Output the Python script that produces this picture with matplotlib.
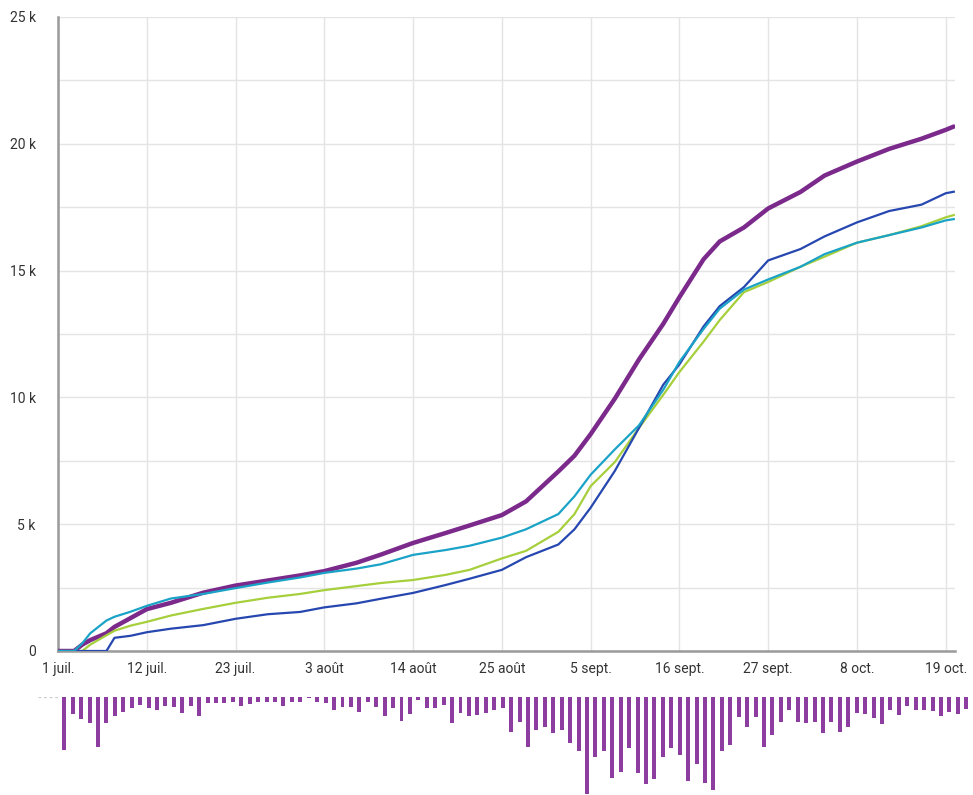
import matplotlib
matplotlib.use('Agg')
import matplotlib.pyplot as plt

plt.rcParams['font.family'] = ['Roboto', 'DejaVu Sans']

# day offsets from 1 July
days = [0, 2, 3, 4, 6, 7, 9, 11, 14, 18, 22, 26, 30, 33, 37, 40, 44, 48, 51, 55, 58,
        62, 64, 66, 69, 72, 75, 77, 80, 82, 85, 88, 92, 95, 99, 103, 107, 110, 111]

purple = [0, 0, 250, 430, 700, 950, 1300, 1650, 1900, 2300, 2580, 2780, 2980, 3150, 3480,
          3800, 4260, 4650, 4950, 5360, 5900, 7080, 7700, 8550, 9950, 11500, 12900, 13950,
          15450, 16150, 16700, 17450, 18100, 18750, 19300, 19800, 20200, 20550, 20680]
cyan = [0, 0, 300, 700, 1200, 1350, 1550, 1780, 2070, 2250, 2480, 2700, 2900, 3080, 3250,
        3420, 3790, 3980, 4150, 4470, 4800, 5400, 6100, 6950, 7950, 8900, 10300, 11400,
        12700, 13500, 14250, 14650, 15150, 15650, 16100, 16400, 16700, 16980, 17030]
green = [0, 0, 0, 250, 620, 800, 1000, 1150, 1400, 1660, 1900, 2100, 2250, 2400, 2560,
         2680, 2800, 3000, 3200, 3650, 3950, 4700, 5400, 6500, 7450, 8800, 10100, 11000,
         12200, 13050, 14150, 14550, 15150, 15550, 16100, 16400, 16750, 17100, 17190]
blue = [0, 0, 0, 0, 0, 520, 600, 740, 880, 1020, 1270, 1450, 1540, 1720, 1880,
        2060, 2290, 2600, 2850, 3200, 3700, 4200, 4800, 5650, 7100, 8800, 10500, 11300,
        12800, 13600, 14350, 15400, 15850, 16350, 16900, 17350, 17600, 18050, 18110]

tick_days = [0, 11, 22, 33, 44, 55, 66, 77, 88, 99, 110]
tick_labels = ['1 juil.', '12 juil.', '23 juil.', '3 août', '14 août', '25 août',
               '5 sept.', '16 sept.', '27 sept.', '8 oct.', '19 oct.']
y_ticks = [0, 5000, 10000, 15000, 20000, 25000]
y_labels = ['0', '5 k', '10 k', '15 k', '20 k', '25 k']

# daily bars (hanging below the chart)
daily_bars = [53, 17, 22, 26, 50, 26, 19, 15, 11, 8, 11, 13, 9, 10, 16, 9, 19, 6, 6, 6,
              5, 9, 7, 5, 5, 5, 9, 5, 5, 1, 5, 6, 13, 10, 10, 15, 5, 10, 19, 11,
              24, 17, 3, 11, 11, 8, 26, 16, 19, 18, 16, 13, 11, 35, 25, 50, 33, 30, 36, 33,
              46, 54, 97, 60, 54, 81, 75, 51, 76, 87, 82, 60, 51, 58, 84, 67, 86, 93, 54, 48,
              20, 30, 20, 50, 38, 25, 13, 25, 26, 25, 36, 25, 35, 30, 16, 17, 21, 27, 13, 18,
              9, 13, 13, 14, 19, 15, 17, 12, 11]

fig = plt.figure(figsize=(9.73, 7.95), dpi=100)
ax = fig.add_axes([58 / 973, 1 - 651 / 795, (955 - 58) / 973, (651 - 17) / 795])

ax.plot(days, purple, color='#7b2a8c', lw=3.2, zorder=3, solid_capstyle='round')
ax.plot(days, green, color='#a6cf3c', lw=1.6, zorder=4)
ax.plot(days, blue, color='#2647b0', lw=1.6, zorder=5)
ax.plot(days, cyan, color='#1aa3c7', lw=1.6, zorder=6)

ax.set_xlim(0, (955 - 58) / 8.07)
ax.set_ylim(0, 25000)
ax.set_xticks(tick_days)
ax.set_xticklabels(tick_labels)
ax.set_yticks(y_ticks)
ax.set_yticklabels(y_labels)
ax.set_yticks([2500, 7500, 12500, 17500, 22500], minor=True)
ax.grid(True, which='both', color='#e4e4e4', lw=1)
ax.set_axisbelow(True)
ax.tick_params(which='both', length=0, labelsize=10, colors='#333333')
ax.tick_params(axis='x', pad=8)
ax.tick_params(axis='y', pad=16)
for lab in ax.get_yticklabels():
    lab.set_horizontalalignment('right')
for side in ['top', 'right']:
    ax.spines[side].set_visible(False)
for side in ['left', 'bottom']:
    ax.spines[side].set_color('#9a9a9a')
    ax.spines[side].set_linewidth(1.8)

# bar strip
bx = fig.add_axes([38 / 973, 0, (973 - 38) / 973, (795 - 697) / 795])
idx = list(range(len(daily_bars)))
bx.bar(idx, [-v for v in daily_bars], width=0.47, color='#8d3d9f')
bx.plot([-3.1, -0.6], [0, 0], color='#cccccc', lw=1, ls=(0, (2, 2)))
bx.set_xlim((38 - 64.3) / 8.43, (973 - 64.3) / 8.43)
bx.set_ylim(-98, 0)
bx.axis('off')

fig.savefig('out.png', dpi=100)
